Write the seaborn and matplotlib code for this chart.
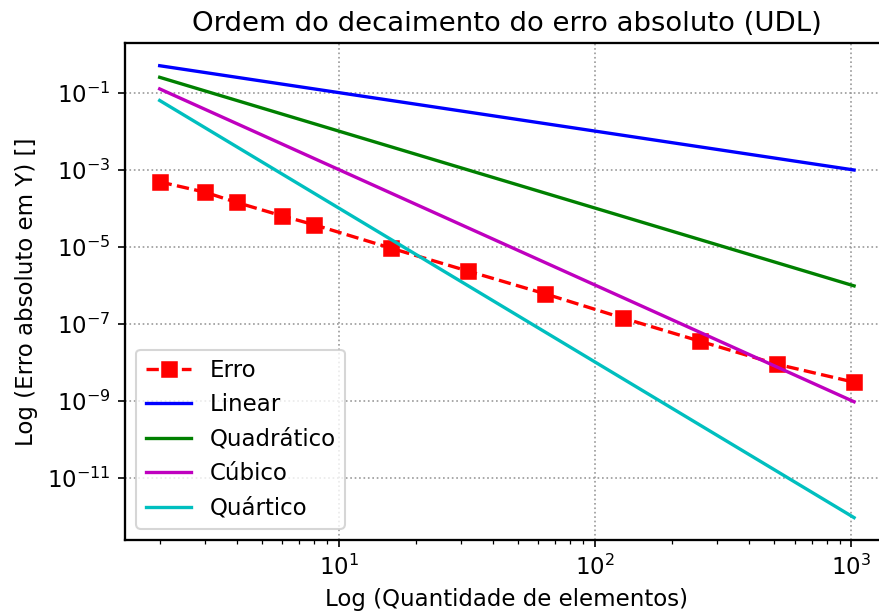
import numpy as np
import pandas as pd
import matplotlib
matplotlib.use("Agg")
import matplotlib.pyplot as plt
import matplotlib.ticker as mticker
import seaborn as sns

# Number of elements used in each refinement
n_elementos = [2, 3, 4, 6, 8, 16, 32, 64, 128, 256, 512, 1024]

# Absolute error in Y for each mesh
erro = [4.8e-4, 2.6e-4, 1.4e-4, 6.3e-5, 3.7e-5, 9.1e-6, 2.3e-6,
        5.9e-7, 1.4e-7, 3.5e-8, 8.8e-9, 3.0e-9]

# Reference convergence slopes 1/n^p
ordens = ["Linear", "Quadrático", "Cúbico", "Quártico"]
expoentes = [1, 2, 3, 4]
cores = ["b", "g", "m", "c"]

fig, ax = plt.subplots(figsize=(880 / 150, 616 / 150), dpi=150)
# The axes run slightly past the right edge of the canvas
fig.subplots_adjust(left=0.142, right=1.010, top=0.930, bottom=0.123)

df_erro = pd.DataFrame({"n": n_elementos, "erro": erro})
sns.lineplot(data=df_erro, x="n", y="erro", ax=ax, color="r", linestyle="--",
             marker="s", markersize=7.2, markeredgecolor="r", linewidth=1.6,
             label="Erro")

n = np.array(n_elementos, dtype=float)
for nome, p, c in zip(ordens, expoentes, cores):
    ref = pd.DataFrame({"n": n, "ref": 1.0 / n ** p})
    sns.lineplot(data=ref, x="n", y="ref", ax=ax, color=c, linewidth=1.6,
                 label=nome)

ax.set_xscale("log")
ax.set_yscale("log")
ax.yaxis.set_minor_locator(mticker.NullLocator())
ax.grid(True, which="major", linestyle=":", color="0.6", linewidth=0.8)
for s in ax.spines.values():
    s.set_linewidth(1.1)

ax.set_title("Ordem do decaimento do erro absoluto (UDL)", fontsize=13.2)
ax.set_xlabel("Log (Quantidade de elementos)", fontsize=11)
ax.set_ylabel("Log (Erro absoluto em Y) []", fontsize=11)
ax.tick_params(labelsize=11)
ax.legend(loc="lower left", fontsize=11)

fig.savefig("out.png", dpi=150)
